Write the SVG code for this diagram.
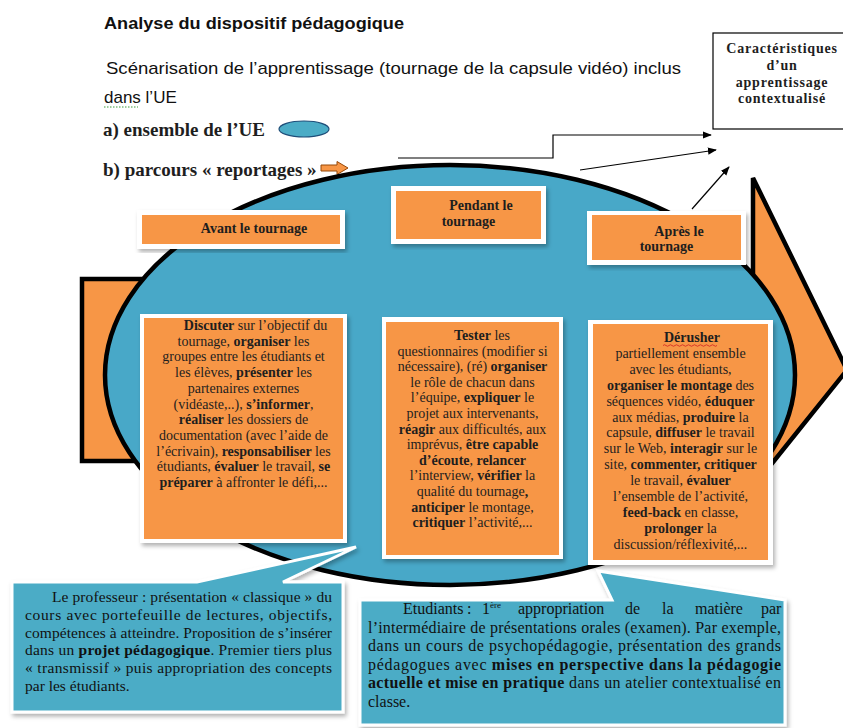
<svg xmlns="http://www.w3.org/2000/svg" width="843" height="728" viewBox="0 0 843 728">
<defs>
<style>
.sans{font-family:"Liberation Sans",Arial,sans-serif;fill:#111}
.ser{font-family:"Liberation Serif","Times New Roman",serif;fill:#1e1e1e}
.bx{font-family:"Liberation Serif","Times New Roman",serif;font-size:14px;fill:#1e1e1e;text-anchor:middle}
.hd{font-family:"Liberation Serif","Times New Roman",serif;font-size:14px;font-weight:bold;fill:#1e1e1e;text-anchor:middle}
.co{font-family:"Liberation Serif","Times New Roman",serif;fill:#111}
.b{font-weight:bold}
.frame{fill:#fff;filter:url(#sh)}
.org{fill:#F79646}
.call{fill:#4BACC6;stroke:#fff;stroke-width:3;filter:url(#sh)}
.con{fill:none;stroke:#000;stroke-width:1.2}
</style>
<filter id="sh" x="-10%" y="-10%" width="120%" height="120%">
<feDropShadow dx="2" dy="3" stdDeviation="2" flood-color="#000" flood-opacity="0.3"/>
</filter>
<marker id="ah" viewBox="0 0 10 10" refX="9" refY="5" markerWidth="9" markerHeight="9" markerUnits="userSpaceOnUse" orient="auto">
<path d="M0,1 L10,5 L0,9 z" fill="#000"/>
</marker>
</defs>
<rect width="843" height="728" fill="#fff"/>

<g id="header">
<text class="sans" x="104" y="29" font-size="17" font-weight="bold" textLength="300" lengthAdjust="spacingAndGlyphs">Analyse du dispositif  pédagogique</text>
<text class="sans" x="106" y="74" font-size="17" textLength="575" lengthAdjust="spacingAndGlyphs">Scénarisation de l’apprentissage  (tournage de la capsule vidéo) inclus</text>
<text class="sans" x="104" y="103" font-size="17">dans l’UE</text>
<line x1="104" y1="107" x2="138" y2="107" stroke="#3a9a3a" stroke-width="1.2" stroke-dasharray="1.5,1.5"/>
<text class="ser" x="103" y="136" font-size="19" font-weight="bold">a) ensemble de l’UE</text>
<ellipse cx="304" cy="129" rx="25" ry="8" fill="#4BACC6" stroke="#1F4E79" stroke-width="1.2"/>
<text class="ser" x="103" y="176" font-size="19" font-weight="bold">b) parcours « reportages »</text>
<path d="M321,165 H337 V161.5 L348,168 L337,174.5 V171 H321 Z" fill="#F79646" stroke="#984807" stroke-width="1"/>
</g>

<g id="big-arrow">
<path d="M82,279 H753 V178 L847,370 L753,487 V461 H82 Z" fill="#F79646" stroke="#000" stroke-width="4.5" stroke-linejoin="miter"/>
</g>

<g id="ellipse">
<ellipse cx="450" cy="375" rx="345" ry="210" fill="#48A8C8" stroke="#000" stroke-width="4.5"/>
</g>

<g id="caract">
<rect x="713" y="33" width="140" height="96" fill="#fff" stroke="#000" stroke-width="1.2"/>
<text class="hd" x="782" y="53" letter-spacing="0.8">Caractéristiques</text>
<text class="hd" x="782" y="70" letter-spacing="0.8">d’un</text>
<text class="hd" x="782" y="86.5" letter-spacing="0.8">apprentissage</text>
<text class="hd" x="782" y="103" letter-spacing="0.8">contextualisé</text>
</g>

<g id="avant">
<rect class="frame" x="137" y="210" width="208" height="39"/>
<rect class="org" x="142" y="215" width="198" height="29"/>
<text class="hd" x="254" y="233">Avant le tournage</text>
</g>

<g id="pendant">
<rect class="frame" x="391" y="186" width="155" height="58"/>
<rect class="org" x="396" y="191" width="145" height="48"/>
<text class="hd" x="481" y="210">Pendant le</text>
<text class="hd" x="468.5" y="226">tournage</text>
</g>

<g id="apres">
<rect class="frame" x="587" y="211" width="159" height="54"/>
<rect class="org" x="592" y="215" width="149" height="45"/>
<text class="hd" x="679" y="236">Après le</text>
<text class="hd" x="666.5" y="251">tournage</text>
</g>

<g id="box-avant">
<rect class="frame" x="140" y="314" width="207" height="229"/>
<rect class="org" x="144" y="318" width="199" height="221"/>
<text class="bx" x="255.5" y="330"><tspan class="b">Discuter</tspan> sur l’objectif du</text>
<text class="bx" x="243.5" y="345.7">tournage, <tspan class="b">organiser</tspan> les</text>
<text class="bx" x="243.5" y="361.4">groupes entre les étudiants et</text>
<text class="bx" x="243.5" y="377.1">les élèves, <tspan class="b">présenter</tspan> les</text>
<text class="bx" x="243.5" y="392.8">partenaires externes</text>
<text class="bx" x="243.5" y="408.5">(vidéaste,..), <tspan class="b">s’informer</tspan>,</text>
<text class="bx" x="243.5" y="424.2"><tspan class="b">réaliser</tspan> les dossiers de</text>
<text class="bx" x="243.5" y="439.9">documentation (avec l’aide de</text>
<text class="bx" x="243.5" y="455.6">l’écrivain), <tspan class="b">responsabiliser</tspan> les</text>
<text class="bx" x="243.5" y="471.3">étudiants, <tspan class="b">évaluer</tspan> le travail, <tspan class="b">se</tspan></text>
<text class="bx" x="243.5" y="487"><tspan class="b">préparer</tspan> à affronter le défi,...</text>
</g>

<g id="box-pendant">
<rect class="frame" x="382" y="317" width="181" height="242"/>
<rect class="org" x="386" y="322" width="173" height="233"/>
<text class="bx" x="482" y="340"><tspan class="b">Tester</tspan> les</text>
<text class="bx" x="472.5" y="355.6">questionnaires (modifier si</text>
<text class="bx" x="472.5" y="371.2">nécessaire), (ré) <tspan class="b">organiser</tspan></text>
<text class="bx" x="472.5" y="386.8">le rôle de chacun dans</text>
<text class="bx" x="472.5" y="402.4">l’équipe, <tspan class="b">expliquer</tspan> le</text>
<text class="bx" x="472.5" y="418">projet aux intervenants,</text>
<text class="bx" x="472.5" y="433.6"><tspan class="b">réagir</tspan> aux difficultés, aux</text>
<text class="bx" x="472.5" y="449.2">imprévus, <tspan class="b">être capable</tspan></text>
<text class="bx" x="472.5" y="464.8"><tspan class="b">d’écoute</tspan>, <tspan class="b">relancer</tspan></text>
<text class="bx" x="472.5" y="480.4">l’interview, <tspan class="b">vérifier</tspan> la</text>
<text class="bx" x="472.5" y="496">qualité du tournage<tspan class="b">,</tspan></text>
<text class="bx" x="472.5" y="511.6"><tspan class="b">anticiper</tspan> le montage,</text>
<text class="bx" x="472.5" y="527.2"><tspan class="b">critiquer</tspan> l’activité,...</text>
</g>

<g id="box-apres">
<rect class="frame" x="588" y="320" width="185" height="245"/>
<rect class="org" x="593" y="324" width="175" height="236"/>
<text class="bx" x="692" y="342"><tspan class="b">Dérusher</tspan></text>
<path d="M663,345.5 q1.5,-1.5 3,0 t3,0 t3,0 t3,0 t3,0 t3,0 t3,0 t3,0 t3,0 t3,0 t3,0 t3,0 t3,0 t3,0 t3,0 t3,0 t3,0 t3,0" fill="none" stroke="#d02020" stroke-width="0.8"/>
<text class="bx" x="680.5" y="357.9">partiellement ensemble</text>
<text class="bx" x="680.5" y="373.8">avec les étudiants,</text>
<text class="bx" x="680.5" y="389.7"><tspan class="b">organiser le montage</tspan> des</text>
<text class="bx" x="680.5" y="405.6">séquences vidéo, <tspan class="b">éduquer</tspan></text>
<text class="bx" x="680.5" y="421.5">aux médias, <tspan class="b">produire</tspan> la</text>
<text class="bx" x="680.5" y="437.4">capsule, <tspan class="b">diffuser</tspan> le travail</text>
<text class="bx" x="680.5" y="453.3">sur le Web, <tspan class="b">interagir</tspan> sur le</text>
<text class="bx" x="680.5" y="469.2">site, <tspan class="b">commenter, critiquer</tspan></text>
<text class="bx" x="680.5" y="485.1">le travail, <tspan class="b">évaluer</tspan></text>
<text class="bx" x="680.5" y="501">l’ensemble de l’activité,</text>
<text class="bx" x="680.5" y="516.9"><tspan class="b">feed-back</tspan> en classe,</text>
<text class="bx" x="680.5" y="532.8"><tspan class="b">prolonger</tspan> la</text>
<text class="bx" x="680.5" y="548.7">discussion/réflexivité,...</text>
</g>

<g id="callout-prof">
<path class="call" d="M12,582 L197,582 L356,547 L283,582 L343,582 L343,712 L12,712 Z"/>
<text class="co" x="52" y="602" font-size="15.5" textLength="280" lengthAdjust="spacing">Le professeur : présentation « classique » du</text>
<text class="co" x="25" y="619.8" font-size="15.5" textLength="307" lengthAdjust="spacing">cours avec portefeuille de lectures, objectifs,</text>
<text class="co" x="25" y="637.6" font-size="15.5" textLength="307" lengthAdjust="spacing">compétences à atteindre. Proposition de s’insérer</text>
<text class="co" x="25" y="655.4" font-size="15.5" textLength="307" lengthAdjust="spacing">dans un <tspan class="b">projet pédagogique</tspan>. Premier tiers plus</text>
<text class="co" x="25" y="673.2" font-size="15.5" textLength="307" lengthAdjust="spacing">« transmissif » puis appropriation des concepts</text>
<text class="co" x="25" y="691" font-size="15.5">par les étudiants.</text>
</g>

<g id="callout-etud">
<path class="call" d="M360,600 L612,600 L598,571 L785,600 L785,725 L360,725 Z"/>
<text class="co" y="614" font-size="16"><tspan x="403">Etudiants</tspan><tspan x="467">:</tspan><tspan x="482">1</tspan><tspan font-size="9" dy="-6">ère</tspan><tspan x="518" dy="6">appropriation</tspan><tspan x="625">de</tspan><tspan x="662">la</tspan><tspan x="695">matière</tspan><tspan x="761">par</tspan></text>
<text class="co" x="368" y="632.5" font-size="16" textLength="413" lengthAdjust="spacing">l’intermédiaire de présentations orales (examen). Par exemple,</text>
<text class="co" x="368" y="651" font-size="16" textLength="413" lengthAdjust="spacing">dans un cours de psychopédagogie, présentation des grands</text>
<text class="co" x="368" y="669.5" font-size="16" textLength="413" lengthAdjust="spacing">pédagogues avec <tspan class="b">mises en perspective dans la pédagogie</tspan></text>
<text class="co" x="368" y="688" font-size="16" textLength="413" lengthAdjust="spacing"><tspan class="b">actuelle et mise en pratique</tspan> dans un atelier contextualisé en</text>
<text class="co" x="368" y="706.5" font-size="16">classe.</text>
</g>

<g id="connectors">
<path class="con" d="M398,158 H553 V135 H711" marker-end="url(#ah)"/>
<path class="con" d="M580,170 L716,150" marker-end="url(#ah)"/>
<path class="con" d="M692,209 L729,167" marker-end="url(#ah)"/>
</g>
</svg>
